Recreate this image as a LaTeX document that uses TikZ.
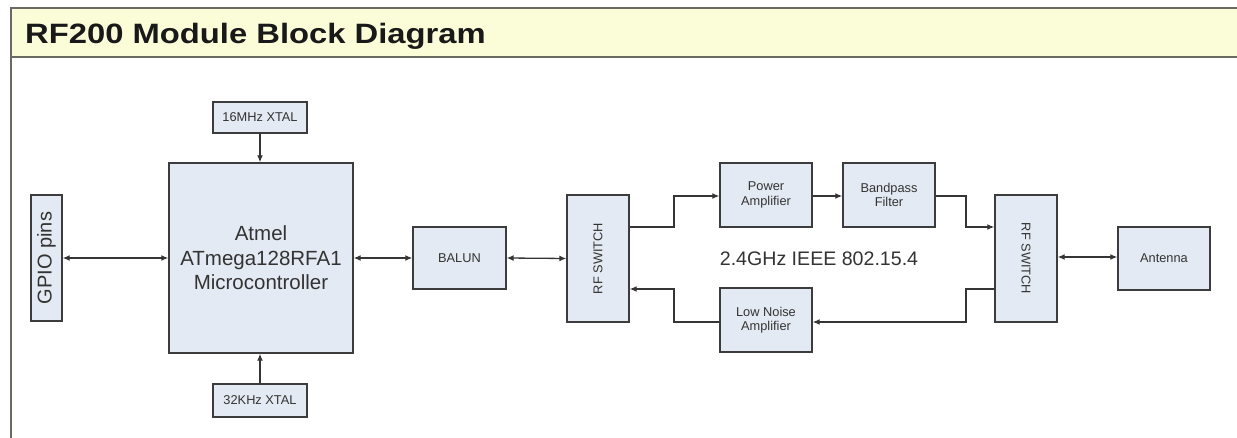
\documentclass[tikz,border=0pt]{standalone}
\usepackage{fontspec}
\setmainfont{Liberation Sans}
\usetikzlibrary{arrows.meta}
\definecolor{boxfill}{HTML}{E4EAF3}
\definecolor{boxline}{HTML}{3C3C3C}
\definecolor{headfill}{HTML}{FBFDD8}
\definecolor{headline}{HTML}{6A6A62}
\definecolor{wire}{HTML}{353535}
\tikzset{
  blk/.style={draw=boxline, line width=1.4pt, fill=boxfill, inner sep=0pt, align=center, font=\fontsize{12.8}{14.5}\selectfont, text=black!80},
  link/.style={draw=wire, line width=1.3pt, -{Latex[length=7pt,width=6pt]}},
  blink/.style={draw=wire, line width=1.3pt, {Latex[length=7pt,width=6pt]}-{Latex[length=7pt,width=6pt]}},
}
\begin{document}
\begin{tikzpicture}[x=1pt,y=-1pt]
\useasboundingbox (0,0) rectangle (1237,438);
% header
\fill[headfill] (11,8) rectangle (1237,57);
\draw[headline, line width=1.6pt] (1237,8) -- (11,8) -- (11,438);
\draw[headline, line width=1.6pt] (11,57) -- (1237,57);
\node[anchor=base west, font=\fontsize{28}{30}\selectfont\bfseries, text=black!90, inner sep=0pt] (title) at (25,44) {\scalebox{1.17}[1]{RF200 Module Block Diagram}};
% boxes
\node[blk, minimum width=31pt, minimum height=126pt, font=\fontsize{20}{22}\selectfont] (gpio) at (46.5,258) {\rotatebox{90}{GPIO pins}};
\node[blk, minimum width=184pt, minimum height=190pt, font=\fontsize{20.5}{24.5}\selectfont] (mcu) at (261,258) {Atmel\\ATmega128RFA1\\Microcontroller};
\node[blk, minimum width=94pt, minimum height=31pt] (x16) at (260,117.5) {16MHz XTAL};
\node[blk, minimum width=94pt, minimum height=33pt] (x32) at (260,400.5) {32KHz XTAL};
\node[blk, minimum width=93pt, minimum height=62pt] (balun) at (459.5,258) {BALUN};
\node[blk, minimum width=62pt, minimum height=127pt] (sw1) at (598,258.5) {\rotatebox{90}{RF SWITCH}};
\node[blk, minimum width=92pt, minimum height=64pt] (pa) at (766,195) {Power\\Amplifier};
\node[blk, minimum width=92pt, minimum height=64pt] (lna) at (766,320) {Low Noise\\Amplifier};
\node[blk, minimum width=92pt, minimum height=64pt] (bpf) at (889,195) {Bandpass\\Filter};
\node[blk, minimum width=62pt, minimum height=127pt] (sw2) at (1026,258.5) {\rotatebox{-90}{RF SWITCH}};
\node[blk, minimum width=92pt, minimum height=63pt] (ant) at (1164,258.5) {Antenna};
\node[font=\fontsize{19.6}{21}\selectfont, text=black!80, inner sep=0pt] (band) at (819,259) {2.4GHz IEEE 802.15.4};
% connectors
\draw[blink] (gpio.east) -- (mcu.west);
\draw[blink] (mcu.east) -- (balun.west);
\draw[blink] (balun.east) -- (sw1.west);
\draw[link] (x16.south) -- (mcu.north -| x16.south);
\draw[link] (x32.north) -- (mcu.south -| x32.north);
\draw[link] (sw1.east |- 0,227) -| (674,196) -- (pa.west |- 0,196);
\draw[link] (pa.east |- 0,196) -- (bpf.west |- 0,196);
\draw[link] (bpf.east |- 0,196) -| (966,227) -- (sw2.west |- 0,227);
\draw[link] (sw2.west |- 0,289) -| (966,322) -- (lna.east |- 0,322);
\draw[link] (lna.west |- 0,322) -| (674,289) -- (sw1.east |- 0,289);
\draw[blink] (sw2.east |- 0,257) -- (ant.west |- 0,257);
\end{tikzpicture}
\end{document}
